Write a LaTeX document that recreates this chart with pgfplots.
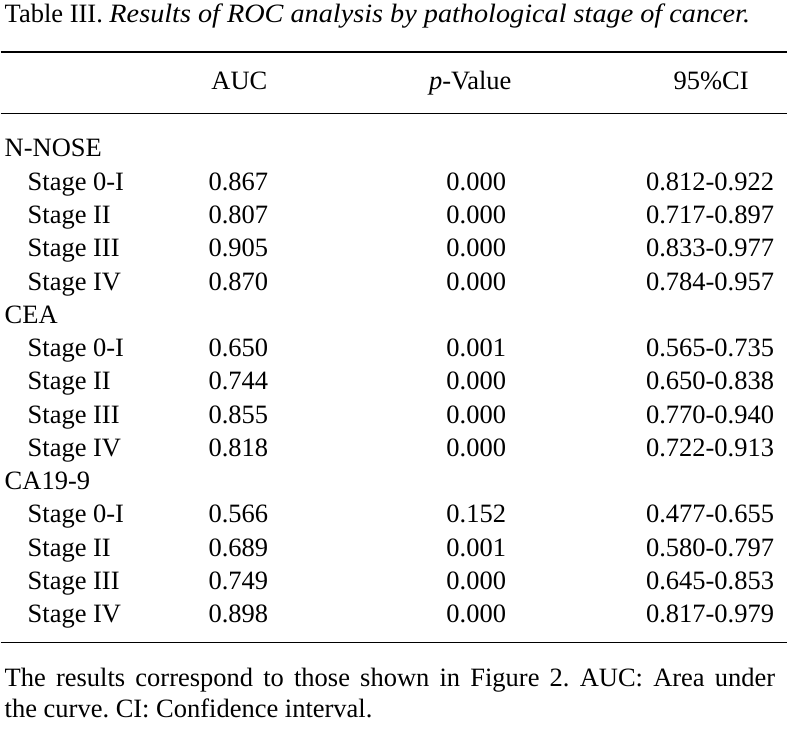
\documentclass[border=0pt]{standalone}
\usepackage{fontspec}
\setmainfont{Liberation Serif}
\usepackage{graphicx}
\usepackage{pgfplots}
\pgfplotsset{compat=1.18}
\usepackage{pgfplotstable}
\newcommand\tf{\fontsize{26.5}{32}\selectfont}
\frenchspacing

% group headings
\pgfplotstableread[col sep=comma,row sep=\\]{
y,label\\
157,N-NOSE\\
323.5,CEA\\
490,CA19-9\\
}\groups

% rows: stage, AUC, p-value, 95% CI
\pgfplotstableread[col sep=comma,row sep=\\]{
y,stage,auc,p,ci\\
190.3,Stage 0-I,0.867,0.000,0.812-0.922\\
223.6,Stage II,0.807,0.000,0.717-0.897\\
256.9,Stage III,0.905,0.000,0.833-0.977\\
290.2,Stage IV,0.870,0.000,0.784-0.957\\
356.8,Stage 0-I,0.650,0.001,0.565-0.735\\
390.1,Stage II,0.744,0.000,0.650-0.838\\
423.4,Stage III,0.855,0.000,0.770-0.940\\
456.7,Stage IV,0.818,0.000,0.722-0.913\\
523.3,Stage 0-I,0.566,0.152,0.477-0.655\\
556.6,Stage II,0.689,0.001,0.580-0.797\\
589.9,Stage III,0.749,0.000,0.645-0.853\\
623.2,Stage IV,0.898,0.000,0.817-0.979\\
}\rows

\begin{document}
\begin{tikzpicture}
\begin{axis}[
  width=789pt, height=748pt, scale only axis,
  xmin=0, xmax=789, ymin=0, ymax=748, y dir=reverse,
  hide axis, clip=false,
  point meta=explicit symbolic,
  every node near coord/.append style={font=\tf, inner sep=0pt, text=black},
]
\path (rel axis cs:0,0) rectangle (rel axis cs:1,1);
% rules
\addplot[black, line width=1.1pt] coordinates {(0,52) (787,52)};
\addplot[black, line width=1.1pt] coordinates {(0,114) (787,114)};
\addplot[black, line width=1.1pt] coordinates {(0,643) (787,643)};
% title and header
\node[anchor=base west, inner sep=0pt, font=\tf] at (axis cs:4,23) {Table III. \scalebox{1.066}[1]{\textit{Results of ROC analysis by pathological stage of cancer.}}};
\node[anchor=base, inner sep=0pt, font=\tf] at (axis cs:239,90) {AUC};
\node[anchor=base, inner sep=0pt, font=\tf] at (axis cs:470,90) {\textit{p}-Value};
\node[anchor=base, inner sep=0pt, font=\tf] at (axis cs:711,90) {95\%CI};
% group labels
\addplot[draw=none, mark=none, nodes near coords, nodes near coords style={anchor=base west}]
  table[x expr=4, y=y, meta=label] {\groups};
% stage labels
\addplot[draw=none, mark=none, nodes near coords, nodes near coords style={anchor=base west}]
  table[x expr=27, y=y, meta=stage] {\rows};
% AUC
\addplot[draw=none, mark=none, nodes near coords, nodes near coords style={anchor=base}]
  table[x expr=238, y=y, meta=auc] {\rows};
% p-value
\addplot[draw=none, mark=none, nodes near coords, nodes near coords style={anchor=base}]
  table[x expr=476, y=y, meta=p] {\rows};
% CI
\addplot[draw=none, mark=none, nodes near coords, nodes near coords style={anchor=base}]
  table[x expr=710, y=y, meta=ci] {\rows};
% footnote
\node[anchor=base west, inner sep=0pt, font=\tf] at (axis cs:4,687) {\makebox[771pt][s]{The results correspond to those shown in Figure 2. AUC: Area under}};
\node[anchor=base west, inner sep=0pt, font=\tf] at (axis cs:4,718) {the curve. CI: Confidence interval.};
\end{axis}
\end{tikzpicture}
\end{document}
